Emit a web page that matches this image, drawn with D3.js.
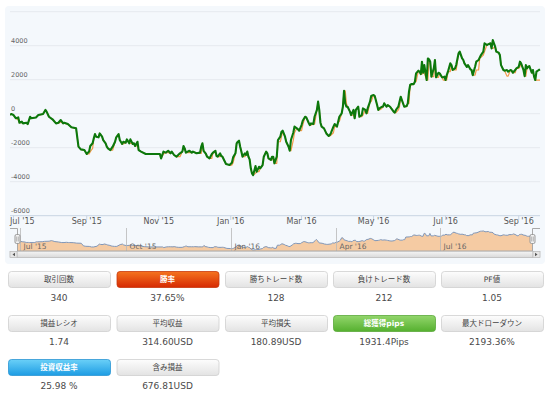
<!DOCTYPE html>
<html>
<head>
<meta charset="utf-8">
<script src="https://cdn.jsdelivr.net/npm/d3@7"></script>
<style>
  body { margin: 0; background: #fff; }
  svg { display: block; font-family: "Lucida Grande", "DejaVu Sans", "Noto Sans CJK JP", sans-serif; }
</style>
</head>
<body>
<svg id="chart" width="550" height="394"></svg>
<script>
// days counted from 1 Jul 2015
const startDate = new Date(2015, 6, 1);

const tradeDays = [
  -3,-2,0,2,4,5,7,8,11,12,14,15,19,21,25,27,28,30,33,36,
  38,40,42,43,46,49,53,55,57,60,62,64,65,67,68,69,70,72,73,75,
  76,78,79,80,82,84,86,87,89,90,92,93,95,96,98,99,101,102,103,105,
  106,108,112,118,124,125,127,129,131,133,134,136,138,141,143,144,145,146,149,151,
  152,155,158,159,160,161,163,164,166,168,169,171,172,173,175,176,177,180,183,185,
  186,188,189,190,191,192,193,194,196,197,198,199,200,201,202,203,205,206,208,209,
  211,212,214,215,216,218,219,220,221,
  223,224,226,227,228,230,231,233,234,235,237,238,240,241,242,244,245,247,248,250,
  251,252,254,255,257,258,259,260,261,263,265,267,268,269,271,272,274,275,276,278,
  279,280,281,282,283,285,286,288,289,290,292,293,295,296,298,299,300,302,303,305,
  306,308,309,310,312,313,314,316,317,319,320,322,323,324,326,327,328,329,331,333,
  334,335,336,337,339,340,341,343,344,345,346,347,348,350,351,352,353,354,356,357,
  358,360,361,363,364,365,366,367,368,370,371,372,374,375,377,378,380,381,382,384,
  385,387,388,389,391,392,394,395,396,398,399,401,402,404,405,406,408,409,411,412,
  413,415,416,418,419,421,422,423,425,426,428,429,430,432,433,434,435,436,437,439,
  440,441,442,443,445,446
];

// green series
const equity = [
  -80,-20,-80,-270,-220,-530,-470,-570,-530,-610,-180,-270,-220,-80,-20,220,120,-180,-330,-570,
  -530,-370,-570,-530,-610,-800,-860,-1940,-2100,-2140,-2370,-2230,-1900,-1740,-1450,-1200,-1350,-1390,-1160,-1350,
  -1550,-1740,-1940,-2040,-2140,-1940,-1650,-1390,-1200,-1550,-1780,-1650,-1710,-1510,-1740,-1510,-1780,-1740,-1900,-1650,
  -2140,-2230,-2370,-2370,-2370,-2630,-2230,-2290,-2180,-2330,-2230,-2430,-2530,-2330,-2230,-1900,-2040,-2290,-2180,-2290,
  -2230,-2330,-2290,-1940,-1740,-2180,-2370,-2530,-2630,-2370,-2290,-2180,-2490,-2530,-2330,-2490,-2530,-2960,-3020,-2880,
  -2570,-2330,-1740,-1650,-1590,-1940,-2230,-2530,-2330,-2430,-2230,-2530,-2690,-3210,-3510,-3610,-3080,-3410,-3120,-3210,
  -3020,-2530,-2230,-2330,-2630,-2720,-2530,-2530,-2920,
  -2530,-1550,-1350,-1060,-1000,-1350,-1650,-1940,-2180,-1550,-1120,-760,-860,-920,-1000,-670,-410,-180,-220,-530,
  -670,-570,-610,-180,220,710,220,-530,-760,-860,-1160,-1310,-1250,-1120,-760,-610,-760,-470,-180,20,
  410,1350,610,410,410,120,-80,220,-270,220,410,-180,-80,310,220,20,310,710,1040,1100,
  1040,510,220,310,410,410,610,410,510,410,310,120,60,220,410,710,1000,800,410,450,
  610,1290,1690,1740,1740,1880,2370,2530,2470,2330,3060,2410,2860,1980,3250,3200,3060,2180,2670,3160,
  2140,2410,2370,2140,2140,2180,1980,2270,2470,2960,2860,2570,2670,2860,3550,3650,3250,3160,2960,2760,
  2860,2610,2570,2270,2760,3060,3160,3310,3450,3650,4140,4040,4080,4140,3840,4330,3940,3650,3590,3450,
  2860,2570,2530,2570,2470,2570,2530,2410,2570,2670,2760,3060,2960,2570,2210,2860,2670,2760,2800,2410,
  2570,2180,1980,2470,2570,2610
];

// orange series
const balance = [
  -80,-20,-80,-270,-370,-530,-530,-570,-570,-610,-270,-270,-220,-80,-20,220,120,-180,-330,-570,
  -570,-470,-570,-570,-610,-800,-860,-1940,-2100,-2140,-2370,-2370,-2230,-2040,-1450,-1200,-1350,-1390,-1160,-1350,
  -1550,-1740,-1940,-2040,-2140,-2140,-1650,-1390,-1200,-1550,-1780,-1780,-1710,-1510,-1740,-1740,-1780,-1740,-1900,-1900,
  -2140,-2230,-2370,-2370,-2370,-2630,-2370,-2290,-2290,-2330,-2230,-2430,-2530,-2530,-2230,-2040,-2040,-2290,-2290,-2290,
  -2230,-2330,-2330,-2330,-1740,-2180,-2370,-2530,-2630,-2630,-2290,-2290,-2490,-2530,-2530,-2490,-2530,-2960,-3020,-3020,
  -2880,-2330,-1740,-1650,-1590,-1940,-2230,-2530,-2530,-2430,-2230,-2530,-2690,-3210,-3510,-3610,-3510,-3410,-3410,-3210,
  -3020,-2530,-2230,-2330,-2630,-2720,-2720,-2530,-2920,
  -2920,-1650,-1650,-1350,-1060,-1350,-1650,-1940,-2180,-2180,-1550,-1120,-860,-920,-1000,-1000,-670,-180,-220,-530,
  -670,-670,-610,-610,220,710,220,-530,-760,-860,-1160,-1310,-1310,-1250,-1120,-760,-760,-470,-470,20,
  410,1350,1350,610,410,120,-80,-80,-270,220,410,-180,-180,-80,220,20,20,710,710,1100,
  1040,510,220,220,310,410,610,410,510,410,310,120,60,60,220,410,1000,800,410,410,
  610,610,1690,1690,1740,1880,1880,2530,2470,2330,2330,2410,2410,1980,1980,3200,3060,2180,2180,3160,
  2140,2140,2370,2140,1980,1980,1980,1980,2470,2470,2860,2570,2570,2570,3550,3650,3250,3160,2960,2760,
  2860,2610,2570,2270,2270,2570,2570,3310,3310,3450,3650,4040,4080,4140,3840,3840,3940,3650,3590,3450,
  2860,2570,2530,2210,2210,2570,2530,2410,2410,2670,2670,2760,2960,2570,2210,2210,2670,2760,2800,2410,
  2410,2180,1980,1980,1980,1980
];

const yTicks = [-6000, -4000, -2000, 0, 2000, 4000, 6000];
const mainTickDates = ["2015-07-01","2015-09-01","2015-11-01","2016-01-01","2016-03-01","2016-05-01","2016-07-01","2016-09-01"];
const navTickDates = ["2015-07-01","2015-10-01","2016-01-01","2016-04-01","2016-07-01"];

const statLabels = ["取引回数","勝率","勝ちトレード数","負けトレード数","PF値",
                    "損益レシオ","平均収益","平均損失","総獲得pips","最大ドローダウン",
                    "投資収益率","含み損益"];
const statValues = ["340","37.65%","128","212","1.05",
                    "1.74","314.60USD","180.89USD","1931.4Pips","2193.36%",
                    "25.98 %","676.81USD"];
const statStyles = ["gray","red","gray","gray","gray",
                    "gray","gray","gray","green","gray",
                    "blue","gray"];

const svg = d3.select("#chart");
const parse = d3.timeParse("%Y-%m-%d");
const fmt = d3.timeFormat("%b '%y");
const toDate = d => d3.timeDay.offset(startDate, d);

const points = tradeDays.map((d, i) => ({date: toDate(d), eq: equity[i], bal: balance[i]}));
const xDomain = d3.extent(points, p => p.date);

// gradients
const defs = svg.append("defs");
const grads = {
  gray: ["#fdfdfd", "#e3e3e3", "#cfcfcf"],
  red: ["#f5731f", "#d62a03", "#c8380c"],
  green: ["#93d66c", "#55b02f", "#5aa83a"],
  blue: ["#6ad0f8", "#1d9ce3", "#2b95d3"]
};
Object.entries(grads).forEach(([k, c]) => {
  const g = defs.append("linearGradient").attr("id", "g-" + k)
    .attr("x1", 0).attr("y1", 0).attr("x2", 0).attr("y2", 1);
  g.append("stop").attr("offset", "0%").attr("stop-color", c[0]);
  g.append("stop").attr("offset", "100%").attr("stop-color", c[1]);
});
const sg = defs.append("linearGradient").attr("id", "g-scroll")
  .attr("x1", 0).attr("y1", 0).attr("x2", 0).attr("y2", 1);
sg.append("stop").attr("offset", "0%").attr("stop-color", "#f4f4f4");
sg.append("stop").attr("offset", "100%").attr("stop-color", "#d9d9d9");

defs.append("clipPath").attr("id", "plotclip")
  .append("rect").attr("x", 10).attr("y", 8).attr("width", 532).attr("height", 210);

// chart panel
svg.append("rect")
  .attr("x", 5).attr("y", 6).attr("width", 540).attr("height", 258).attr("rx", 4)
  .attr("fill", "#f4f8fc");

// main plot
const x = d3.scaleTime().domain(xDomain).range([10, 540]);
const y = d3.scaleLinear().domain([-6000, 6000]).range([215.7, 11.7]);

svg.append("g").selectAll("line")
  .data(yTicks)
  .enter().append("line")
  .attr("x1", 10).attr("x2", 540)
  .attr("y1", d => y(d)).attr("y2", d => y(d))
  .attr("stroke", d => d === -6000 ? "#c8d4e2" : "#e6e9ee")
  .attr("stroke-width", 1);

svg.append("g").selectAll("text")
  .data(yTicks.filter(d => d !== 6000))
  .enter().append("text")
  .attr("x", 11).attr("y", d => y(d) - 3)
  .attr("font-size", 6.5).attr("fill", "#666")
  .text(d => d);

const xt = svg.append("g");
mainTickDates.map(parse).forEach((d, i) => {
  const px = x(d);
  xt.append("line").attr("x1", px).attr("x2", px).attr("y1", 215.7).attr("y2", 220)
    .attr("stroke", "#c8d4e2");
  const t = xt.append("text").attr("y", 224).attr("font-size", 8).attr("fill", "#555")
    .text(fmt(d));
  if (i === 0) t.attr("x", 10).attr("text-anchor", "start");
  else t.attr("x", px).attr("text-anchor", "middle");
});

const lines = svg.append("g").attr("clip-path", "url(#plotclip)");
lines.append("path")
  .datum(points)
  .attr("fill", "none")
  .attr("stroke", "#f39a48")
  .attr("stroke-width", 1.2)
  .attr("stroke-linejoin", "round")
  .attr("d", d3.line().x(p => x(p.date)).y(p => y(p.bal)));
lines.append("path")
  .datum(points)
  .attr("fill", "none")
  .attr("stroke", "#0c780c")
  .attr("stroke-width", 2.1)
  .attr("stroke-linejoin", "round")
  .attr("d", d3.line().x(p => x(p.date)).y(p => y(p.eq)));

// navigator
const nx = d3.scaleTime().domain(xDomain).range([17, 532]);
const ny = d3.scaleLinear().domain(d3.extent(balance)).range([250, 231]);

const nav = svg.append("g");
nav.append("path")
  .datum(points)
  .attr("fill", "#f5cba3")
  .attr("d", d3.area().x(p => nx(p.date)).y0(251).y1(p => ny(p.bal)));
nav.append("path")
  .datum(points)
  .attr("fill", "none")
  .attr("stroke", "#8197b8")
  .attr("stroke-width", 1)
  .attr("d", d3.line().x(p => nx(p.date)).y(p => ny(p.bal)));

navTickDates.map(parse).forEach(d => {
  const px = Math.round(nx(d)) + 0.5;
  nav.append("line").attr("x1", px).attr("x2", px).attr("y1", 228).attr("y2", 251)
    .attr("stroke", "#b8b8b8").attr("stroke-width", 0.8);
  nav.append("text").attr("x", px + 3).attr("y", 249).attr("font-size", 7.5)
    .attr("fill", "#666").text(fmt(d));
});

nav.append("path")
  .attr("d", "M10,228.5 H17.5 V251 H532.5 V228.5 H540")
  .attr("fill", "none").attr("stroke", "#a9a9a9").attr("stroke-width", 1);

[17.5, 532.5].forEach(hx => {
  nav.append("rect").attr("x", hx - 2.5).attr("y", 234.5).attr("width", 5).attr("height", 9)
    .attr("rx", 1.5).attr("fill", "#f2f2f2").attr("stroke", "#999");
  [-0.8, 0.8].forEach(o => nav.append("line")
    .attr("x1", hx + o).attr("x2", hx + o).attr("y1", 236.5).attr("y2", 241.5)
    .attr("stroke", "#888").attr("stroke-width", 0.6));
});

// scrollbar
const sb = svg.append("g");
sb.append("rect").attr("x", 10).attr("y", 251.5).attr("width", 530).attr("height", 6)
  .attr("fill", "#eeeeee").attr("stroke", "#d6d6d6").attr("stroke-width", 0.6);
sb.append("rect").attr("x", 17).attr("y", 251.5).attr("width", 516).attr("height", 6)
  .attr("fill", "url(#g-scroll)").attr("stroke", "#b5b5b5").attr("stroke-width", 0.6);
[[10, "M15,252.8 L12.5,254.5 L15,256.2 Z"], [533, "M535,252.8 L537.5,254.5 L535,256.2 Z"]].forEach(([bx, arrow]) => {
  sb.append("rect").attr("x", bx).attr("y", 251.5).attr("width", 7).attr("height", 6)
    .attr("fill", "#e6e6e6").attr("stroke", "#b5b5b5").attr("stroke-width", 0.6);
  sb.append("path").attr("d", arrow).attr("fill", "#555");
});

// stats buttons
const colX = [8, 116.5, 225, 333, 441];
const rowY = [271, 315, 359];
const stats = svg.append("g");
statLabels.forEach((label, i) => {
  const bx = colX[i % 5], by = rowY[Math.floor(i / 5)], w = 102, h = 16;
  const style = statStyles[i];
  stats.append("rect")
    .attr("x", bx + 0.5).attr("y", by + 0.5).attr("width", w).attr("height", h).attr("rx", 3)
    .attr("fill", "url(#g-" + style + ")").attr("stroke", grads[style][2]).attr("stroke-width", 0.8);
  stats.append("text")
    .attr("x", bx + w / 2).attr("y", by + 11.3)
    .attr("text-anchor", "middle").attr("font-size", 7.5)
    .attr("font-weight", style === "gray" ? "normal" : "bold")
    .attr("fill", style === "gray" ? "#444" : "#fff")
    .text(label);
  stats.append("text")
    .attr("x", bx + w / 2).attr("y", by + 29.5)
    .attr("text-anchor", "middle").attr("font-size", 9)
    .attr("fill", "#4a4a4a")
    .text(statValues[i]);
});
</script>
</body>
</html>
